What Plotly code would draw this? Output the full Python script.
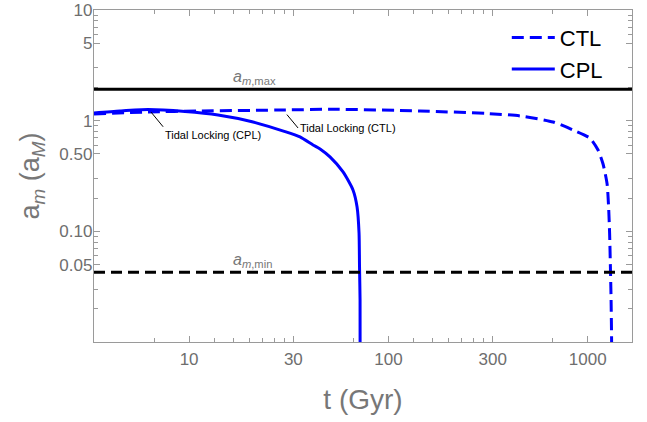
import numpy as np
import plotly.graph_objects as go

# ---------------- data ----------------
# Constant Phase Lag model (solid)
cpl_t = [3.333, 4.50, 6.22, 9.54, 13.97, 20.7, 30.3, 36.0, 41.85, 45.4, 50.9,
         59.2, 66.4, 69.6, 71.2, 71.6, 72.05, 72.1]
cpl_a = [1.174, 1.224, 1.262, 1.211, 1.126, 0.979, 0.796, 0.713, 0.603, 0.555,
         0.470, 0.344, 0.2366, 0.166, 0.0967, 0.0477, 0.024, 0.005]

# Constant Time Lag model (dashed)
ctl_t = [3.333, 6.22, 11.34, 30.3, 50.9, 144.1, 312.5, 457.5, 669.9, 843.9,
         1027, 1126, 1193, 1250, 1272, 1286.7, 1298.6, 1309, 1317, 1320]
ctl_a = [1.15, 1.198, 1.224, 1.249, 1.268, 1.224, 1.161, 1.103, 0.973, 0.824,
         0.693, 0.5435, 0.406, 0.268, 0.166, 0.0967, 0.0477, 0.024, 0.01, 0.005]

# Reference orbit limits
a_max = 1.92
a_min = 0.0427

# Tidal locking points (t, a)
cpl_lock = (6.3, 1.255)
ctl_lock = (29.6, 1.249)

# Axis ranges and ticks
x_range = [10 / 3, 5000 / 3]
y_range = [0.01, 10]
x_tick_vals = [10, 100 / 3, 100, 1000 / 3, 1000]
x_tick_text = ["10", "30", "100", "300", "1000"]
x_minor_vals = [20 / 3, 40 / 3, 50 / 3, 20, 70 / 3, 80 / 3, 30, 200 / 3,
                400 / 3, 500 / 3, 200, 700 / 3, 800 / 3, 300, 2000 / 3]
y_tick_vals = [0.05, 0.1, 0.5, 1, 5, 10]
y_tick_text = ["0.05", "0.10", "0.50", "1", "5", "10"]
y_minor_vals = [0.02, 0.03, 0.06, 0.07, 0.08, 0.09, 0.2, 0.3, 0.6, 0.7, 0.8,
                0.9, 2, 3, 6, 7, 8, 9]

# ---------------- figure ----------------
FONT = "Liberation Sans, Arial, sans-serif"
BLUE = "#0000ff"
AXC = "#9a9a9a"
LABC = "#6e6e6e"
TITC = "#777777"

fig = go.Figure()
fig.add_trace(go.Scatter(x=ctl_t, y=ctl_a, mode="lines", name="CTL",
                         line=dict(color=BLUE, width=3, dash="12px,6px",
                                   shape="spline", smoothing=0.6)))
fig.add_trace(go.Scatter(x=cpl_t, y=cpl_a, mode="lines", name="CPL",
                         line=dict(color=BLUE, width=3,
                                   shape="spline", smoothing=0.6)))

# horizontal limit lines
fig.add_shape(type="line", xref="x domain", yref="y", x0=0, x1=1,
              y0=a_max, y1=a_max, layer="above",
              line=dict(color="black", width=3))
fig.add_shape(type="line", xref="x domain", yref="y", x0=0, x1=1,
              y0=a_min, y1=a_min, layer="above",
              line=dict(color="black", width=3, dash="11px,6px"))

lab_x = 0.2546
fig.add_annotation(xref="paper", yref="y", x=lab_x, y=np.log10(a_max),
                   text="<i>a</i><sub><i>m</i>,max</sub>", showarrow=False,
                   yanchor="bottom", yshift=0,
                   font=dict(family=FONT, size=16, color=TITC))
fig.add_annotation(xref="paper", yref="y", x=lab_x, y=np.log10(a_min),
                   text="<i>a</i><sub><i>m</i>,min</sub>", showarrow=False,
                   yanchor="bottom", yshift=0,
                   font=dict(family=FONT, size=16, color=TITC))

# tidal locking labels with leader lines
for (t, a), lbl, ax, ay, so, ya in [
        (cpl_lock, "Tidal Locking (CPL)", 14, 17, 3, "top"),
        (ctl_lock, "Tidal Locking (CTL)", 15, 18, 6, "middle")]:
    fig.add_annotation(x=np.log10(t), y=np.log10(a), text=lbl,
                       showarrow=True, arrowhead=0, arrowwidth=1,
                       arrowcolor="black", ax=ax, ay=ay, standoff=so,
                       xanchor="left", yanchor=ya, borderpad=1,
                       font=dict(family=FONT, size=11, color="black"))

axis_common = dict(
    type="log", showgrid=False, zeroline=False, showline=True,
    linecolor=AXC, linewidth=1.3, mirror="allticks",
    ticks="inside", ticklen=6, tickwidth=1, tickcolor=AXC,
    tickfont=dict(family=FONT, size=17, color=LABC),
    tickmode="array", automargin=False, ticklabeloverflow="allow",
)

fig.update_xaxes(**axis_common,
                 range=[np.log10(x_range[0]), np.log10(x_range[1])],
                 tickvals=x_tick_vals, ticktext=x_tick_text,
                 minor=dict(tickvals=x_minor_vals, ticks="inside", ticklen=3.5,
                            tickwidth=1, tickcolor=AXC, showgrid=False),
                 ticklabelstandoff=1,
                 title=dict(text="t (Gyr)", standoff=21,
                            font=dict(family=FONT, size=28, color=TITC)))
fig.update_yaxes(**axis_common,
                 range=[np.log10(y_range[0]), np.log10(y_range[1])],
                 tickvals=y_tick_vals, ticktext=y_tick_text,
                 minor=dict(tickvals=y_minor_vals, ticks="inside", ticklen=3.5,
                            tickwidth=1, tickcolor=AXC, showgrid=False),
                 ticklabelstandoff=-3,
                 title=dict(text="a<sub><i>m</i></sub> (a<sub><i>M</i></sub>)",
                            standoff=11,
                            font=dict(family=FONT, size=27, color=TITC)))

fig.update_layout(
    width=647, height=422,
    margin=dict(l=94, r=15, t=10, b=80, autoexpand=False),
    paper_bgcolor="white", plot_bgcolor="white",
    font=dict(family=FONT),
    showlegend=True,
    legend=dict(x=0.955, xanchor="right", y=0.98, yanchor="top",
                itemwidth=43,
                bgcolor="rgba(0,0,0,0)", borderwidth=0,
                font=dict(family=FONT, size=22, color="black")),
)

# remove the browser's default page margin so the figure sits at (0, 0)
fig.write_html("out.html", config={"displayModeBar": False},
               post_script="document.body.style.margin='0';")
